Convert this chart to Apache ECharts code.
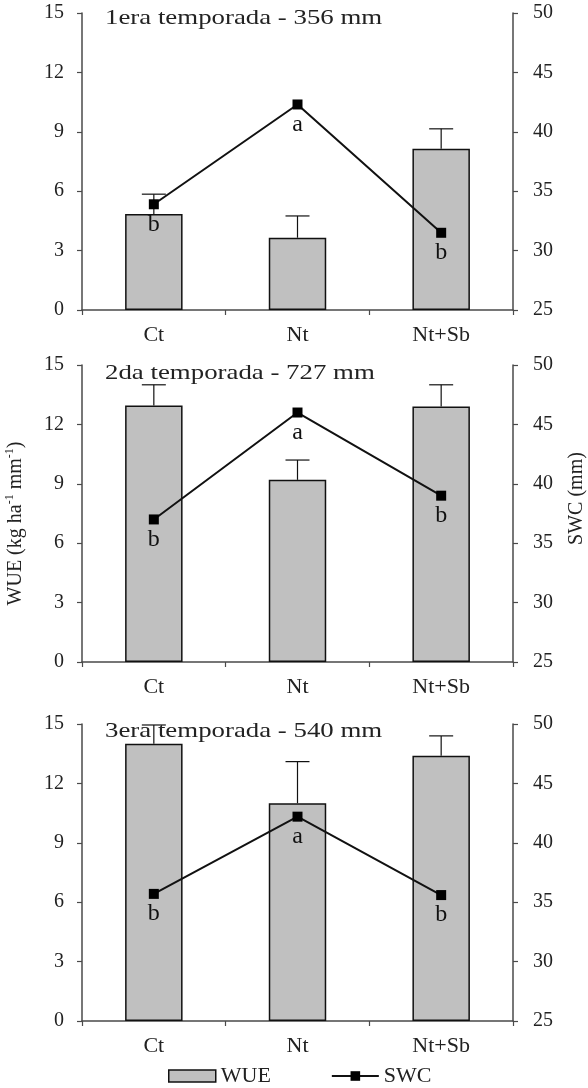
<!DOCTYPE html>
<html>
<head>
<meta charset="utf-8">
<script src="https://cdn.jsdelivr.net/npm/echarts@6/dist/echarts.min.js"></script>
<style>
  html, body { margin: 0; padding: 0; background: #fff; }
  #chart { width: 588px; height: 1088px; }
</style>
</head>
<body>
<div id="chart"></div>
<script>
// Treatments on the category axis
const categories = ['Ct', 'Nt', 'Nt+Sb'];

// Panel headings (season and rainfall)
const seasonTitles = ['1era temporada - 356 mm', '2da temporada - 727 mm', '3era temporada - 540 mm'];

// Water use efficiency (kg ha-1 mm-1) and its upper error
const wue1 = [4.85, 3.65, 8.15];
const wueErr1 = [1.0, 1.1, 1.0];
const wue2 = [12.95, 9.2, 12.9];
const wueErr2 = [1.05, 1.0, 1.1];
const wue3 = [14.0, 11.0, 13.4];
const wueErr3 = [0.95, 2.1, 1.0];

// Soil water content (mm)
const swc1 = [33.9, 42.3, 31.5];
const swc2 = [37.0, 46.0, 39.0];
const swc3 = [35.7, 42.2, 35.6];

// Significance letters on SWC
const swcLetters1 = ['b', 'a', 'b'];
const swcLetters2 = ['b', 'a', 'b'];
const swcLetters3 = ['b', 'a', 'b'];

// Axis ticks
const wueTicks = { min: 0, max: 15, interval: 3 };
const swcTicks = { min: 25, max: 50, interval: 5 };

const panels = [
  { title: seasonTitles[0], wue: wue1, err: wueErr1, swc: swc1, letters: swcLetters1 },
  { title: seasonTitles[1], wue: wue2, err: wueErr2, swc: swc2, letters: swcLetters2 },
  { title: seasonTitles[2], wue: wue3, err: wueErr3, swc: swc3, letters: swcLetters3 }
];

const SERIF = '"Liberation Serif", "DejaVu Serif", serif';
const AXIS_COLOR = '#4a4a4a';
const TEXT_COLOR = '#222';

const gridTops = [13, 365, 724];
const gridHeight = 297;
const titleMidY = [18, 373, 731];

const grids = [], xAxes = [], yAxes = [], series = [], graphics = [];

panels.forEach((p, i) => {
  grids.push({ left: 82, right: 75, top: gridTops[i], height: gridHeight, outerBoundsMode: 'none' });

  // Panel heading, set in a slightly widened serif face
  graphics.push({
    type: 'text',
    x: 105,
    y: titleMidY[i],
    scaleX: 1.22,
    z: 10,
    style: {
      text: p.title,
      font: '22px ' + SERIF,
      fill: TEXT_COLOR,
      verticalAlign: 'middle',
      align: 'left'
    }
  });

  xAxes.push({
    type: 'category',
    gridIndex: i,
    data: categories,
    boundaryGap: true,
    axisLine: { lineStyle: { color: AXIS_COLOR, width: 1.5 } },
    axisTick: { show: true, inside: false, length: 5, lineStyle: { color: AXIS_COLOR, width: 1.2 } },
    axisLabel: { margin: 14, fontFamily: SERIF, fontSize: 22, color: TEXT_COLOR },
    splitLine: { show: false }
  });

  const leftAxis = {
    type: 'value',
    gridIndex: i,
    position: 'left',
    min: wueTicks.min, max: wueTicks.max, interval: wueTicks.interval,
    axisLine: { show: true, lineStyle: { color: AXIS_COLOR, width: 1.5 } },
    axisTick: { show: true, length: 5, lineStyle: { color: AXIS_COLOR, width: 1.2 } },
    axisLabel: { margin: 18, fontFamily: SERIF, fontSize: 20, color: TEXT_COLOR },
    splitLine: { show: false }
  };
  const rightAxis = {
    type: 'value',
    gridIndex: i,
    position: 'right',
    min: swcTicks.min, max: swcTicks.max, interval: swcTicks.interval,
    axisLine: { show: true, lineStyle: { color: AXIS_COLOR, width: 1.5 } },
    axisTick: { show: true, length: 5, lineStyle: { color: AXIS_COLOR, width: 1.2 } },
    axisLabel: { margin: 20, fontFamily: SERIF, fontSize: 20, color: TEXT_COLOR },
    splitLine: { show: false }
  };
  if (i === 1) {
    leftAxis.name = '{n|WUE (kg ha}{s|-1}{n| mm}{s|-1}{n|)}';
    leftAxis.nameLocation = 'middle';
    leftAxis.nameRotate = 90;
    leftAxis.nameGap = 56;
    leftAxis.nameTextStyle = {
      padding: [0, 20, 0, 0],
      rich: {
        n: { fontFamily: SERIF, fontSize: 20, color: TEXT_COLOR, lineHeight: 22, verticalAlign: 'bottom' },
        s: { fontFamily: SERIF, fontSize: 12, color: TEXT_COLOR, lineHeight: 22, verticalAlign: 'top' }
      }
    };
    rightAxis.name = 'SWC (mm)';
    rightAxis.nameLocation = 'middle';
    rightAxis.nameRotate = 90;
    rightAxis.nameGap = 54;
    rightAxis.nameTextStyle = { fontFamily: SERIF, fontSize: 20, color: TEXT_COLOR, padding: [0, 0, 0, 30] };
  }
  yAxes.push(leftAxis, rightAxis);

  series.push({
    name: 'WUE',
    type: 'bar',
    xAxisIndex: i,
    yAxisIndex: i * 2,
    data: p.wue,
    barWidth: '40%',
    itemStyle: { color: '#c0c0c0', borderColor: '#111', borderWidth: 1.5 },
    z: 2
  });

  // Upper error whiskers on the bars
  series.push({
    name: 'WUE error',
    type: 'custom',
    xAxisIndex: i,
    yAxisIndex: i * 2,
    data: p.wue.map((v, k) => [k, v, v + p.err[k]]),
    renderItem: function (params, api) {
      const base = api.coord([api.value(0), api.value(1)]);
      const top = api.coord([api.value(0), api.value(2)]);
      const half = 12;
      const style = { stroke: '#111', lineWidth: 1.2 };
      return {
        type: 'group',
        children: [
          { type: 'line', shape: { x1: base[0], y1: base[1], x2: top[0], y2: top[1] }, style: style },
          { type: 'line', shape: { x1: top[0] - half, y1: top[1], x2: top[0] + half, y2: top[1] }, style: style }
        ]
      };
    },
    silent: true,
    z: 3
  });

  series.push({
    name: 'SWC',
    type: 'line',
    xAxisIndex: i,
    yAxisIndex: i * 2 + 1,
    data: p.swc,
    symbol: 'rect',
    symbolSize: 10,
    lineStyle: { color: '#111', width: 2 },
    itemStyle: { color: '#000' },
    label: {
      show: true,
      position: 'bottom',
      distance: 3,
      formatter: (prm) => p.letters[prm.dataIndex],
      fontFamily: SERIF,
      fontSize: 24,
      color: '#111'
    },
    z: 4
  });
});

const chart = echarts.init(document.getElementById('chart'), null, { renderer: 'canvas' });
chart.setOption({
  animation: false,
  backgroundColor: '#fff',
  graphic: graphics,
  grid: grids,
  xAxis: xAxes,
  yAxis: yAxes,
  legend: {
    left: 163,
    top: 1060,
    itemWidth: 47,
    itemHeight: 12,
    itemGap: 60,
    textStyle: { fontFamily: SERIF, fontSize: 22, color: TEXT_COLOR },
    data: [
      { name: 'WUE', icon: 'rect', itemStyle: { color: '#c0c0c0', borderColor: '#111', borderWidth: 1.5 } },
      { name: 'SWC' }
    ]
  },
  series: series
});
</script>
</body>
</html>
